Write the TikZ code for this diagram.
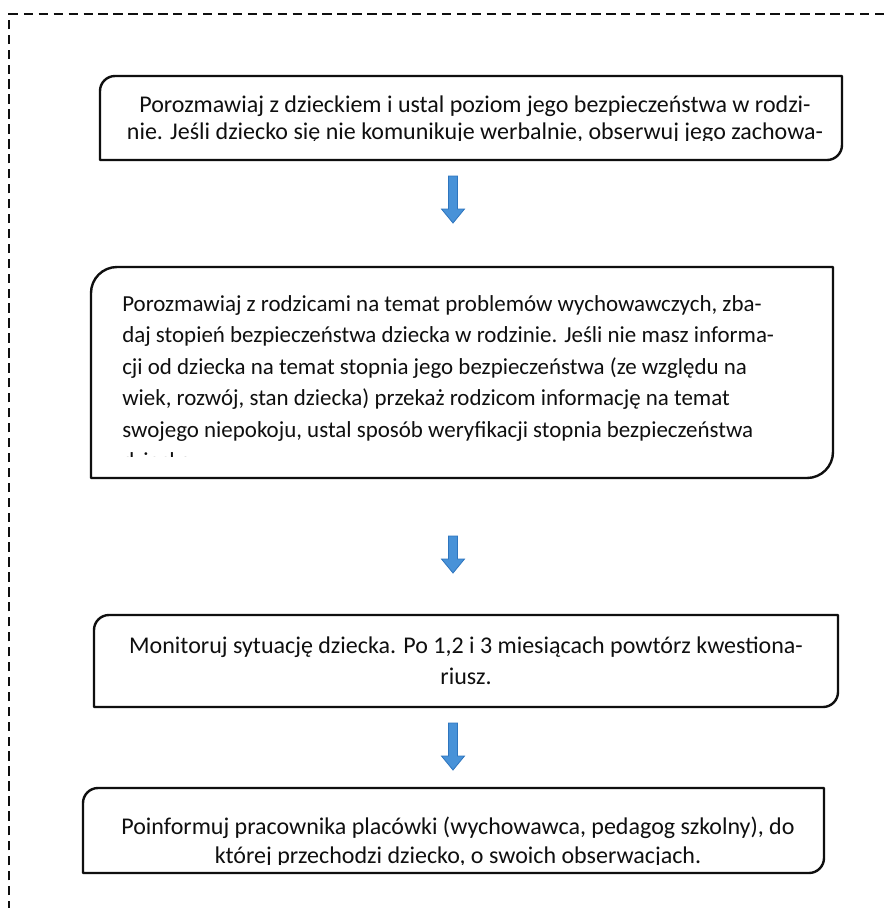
\documentclass[tikz,border=0pt]{standalone}
\usepackage{fontspec}
\setmainfont{Carlito}
\usetikzlibrary{calc}
\definecolor{arrowfill}{RGB}{72,146,216}
\definecolor{arrowedge}{RGB}{46,117,190}
\definecolor{inkc}{RGB}{15,15,15}
% L T R B r : rounded top-left and bottom-right corners
\newcommand\rbox[5]{%
  \draw[boxline] (#1,#4) -- (#1,{#2+#5})
    .. controls (#1,{#2+0.448*#5}) and ({#1+0.448*#5},#2) .. ({#1+#5},#2)
    -- (#3,#2) -- (#3,{#4-#5})
    .. controls (#3,{#4-0.448*#5}) and ({#3-0.448*#5},#4) .. ({#3-#5},#4)
    -- cycle;}
% block arrow from coordinate #1 (tail) to coordinate #2 (tip)
\newcommand\blockarrow[2]{%
  \filldraw[arrowstyle] ($(#1)+(-4.5,0)$) -- ($(#1)+(4.5,0)$)
    -- ($(#2)+(4.5,-14)$) -- ($(#2)+(11.5,-14)$) -- (#2)
    -- ($(#2)+(-11.5,-14)$) -- ($(#2)+(-4.5,-14)$) -- cycle;}
\begin{document}
\begin{tikzpicture}[x=0.75pt,y=-0.75pt,
  boxline/.style={draw=inkc,line width=1.8pt,line join=round},
  frameline/.style={draw=inkc,line width=1.5pt,dash pattern=on 7pt off 4.2pt},
  arrowstyle/.style={fill=arrowfill,draw=arrowedge,line width=0.6pt,line join=miter},
  txt/.style={inner sep=0pt,anchor=base,text=inkc,font=\fontsize{18pt}{21pt}\selectfont},
  ltxt/.style={txt,anchor=base west,font=\fontsize{17.2pt}{21pt}\selectfont}]
\useasboundingbox (0,0) rectangle (889,908);
\fill[white] (0,0) rectangle (889,908);
% dashed frame
\draw[frameline] (9,940) -- (9,14) -- (930,14);

% box 1
\rbox{100}{76}{842}{160}{15}
\node[txt] (t1a) at (475,112) {Porozmawiaj z dzieckiem i ustal poziom jego bezpieczeństwa w rodzi-};
\begin{scope}
\clip (0,118) rectangle (889,140);
\node[txt] (t1b) at (475,139.5) {nie. Jeśli dziecko się nie komunikuje werbalnie, obserwuj jego zachowa-};
\end{scope}

% box 2
\rbox{91}{267}{833}{478}{26}
\node[ltxt] (t2a) at (122,311) {Porozmawiaj z rodzicami na temat problemów wychowawczych, zba-};
\node[ltxt] (t2b) at (122,342.5) {daj stopień bezpieczeństwa dziecka w rodzinie. Jeśli nie masz informa-};
\node[ltxt] (t2c) at (122,374) {cji od dziecka na temat stopnia jego bezpieczeństwa (ze względu na};
\node[ltxt] (t2d) at (122,405.5) {wiek, rozwój, stan dziecka) przekaż rodzicom informację na temat};
\node[ltxt] (t2e) at (122,437) {swojego niepokoju, ustal sposób weryfikacji stopnia bezpieczeństwa};
\begin{scope}
\clip (0,442) rectangle (889,456);
\node[ltxt] (t2f) at (122,468.5) {dziecka.};
\end{scope}

% box 3
\rbox{94}{615}{838}{707}{15}
\node[txt] (t3a) at (466,653) {Monitoruj sytuację dziecka. Po 1,2 i 3 miesiącach powtórz kwestiona-};
\node[txt] (t3b) at (466,684.5) {riusz.};

% box 4
\rbox{83}{788}{824}{873}{15}
\node[txt] (t4a) at (458,834) {Poinformuj pracownika placówki (wychowawca, pedagog szkolny), do};
\begin{scope}
\clip (0,842) rectangle (889,864);
\node[txt] (t4b) at (458,863.5) {której przechodzi dziecko, o swoich obserwacjach.};
\end{scope}

% arrows
\coordinate (a1s) at (453,176);
\coordinate (a1e) at (453,223);
\coordinate (a2s) at (453,536);
\coordinate (a2e) at (453,573);
\coordinate (a3s) at (453,723);
\coordinate (a3e) at (453,770);
\blockarrow{a1s}{a1e}
\blockarrow{a2s}{a2e}
\blockarrow{a3s}{a3e}
\end{tikzpicture}
\end{document}
